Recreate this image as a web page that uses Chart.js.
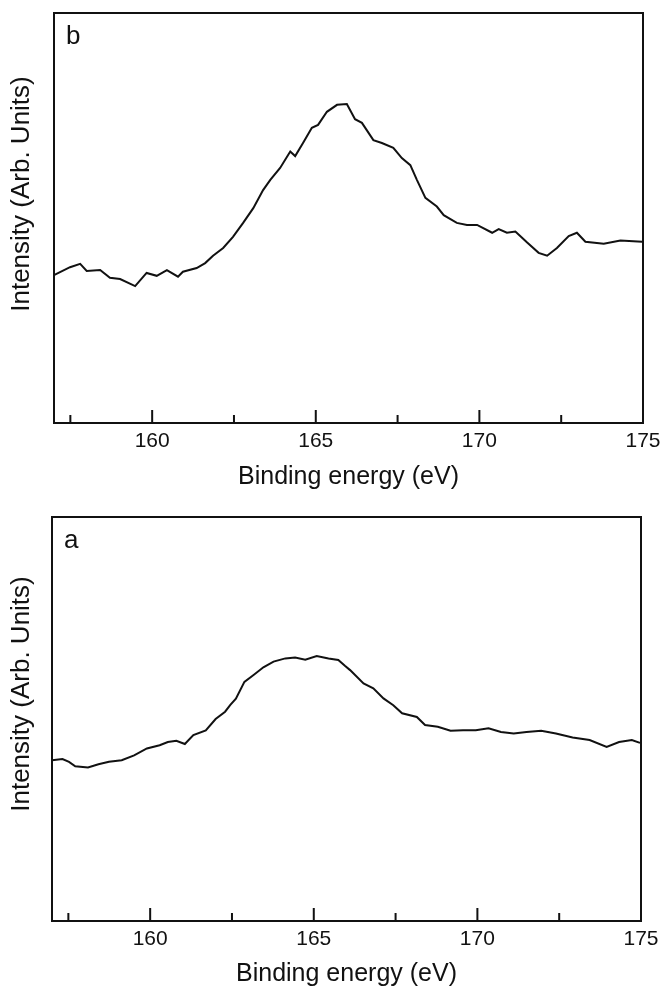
<!DOCTYPE html>
<html>
<head>
<meta charset="utf-8">
<script src="https://cdn.jsdelivr.net/npm/chart.js@4"></script>
<style>
  body { margin: 0; background: #fff; }
  .panel { position: absolute; left: 0; width: 661px; }
</style>
</head>
<body>
<div class="panel" style="top:0;height:500px"><canvas id="chartB"></canvas></div>
<div class="panel" style="top:500px;height:491px"><canvas id="chartA"></canvas></div>
<script>
  // spectrum b (upper panel)
  const energyB = [157.00, 157.49, 157.80, 158.00, 158.41, 158.71, 159.02, 159.48, 159.83, 160.14,
    160.45, 160.79, 160.94, 161.36, 161.62, 161.86, 162.17, 162.47, 162.78, 163.09,
    163.39, 163.61, 163.91, 164.22, 164.37, 164.61, 164.88, 165.07, 165.34, 165.65,
    165.95, 166.20, 166.41, 166.76, 167.02, 167.37, 167.63, 167.89, 168.09, 168.35,
    168.70, 168.91, 169.31, 169.62, 169.93, 170.39, 170.59, 170.84, 171.10, 171.46,
    171.81, 172.07, 172.37, 172.73, 172.98, 173.24, 173.80, 174.31, 174.97];
  const intensityB = [36.1, 38.0, 38.8, 37.1, 37.3, 35.4, 35.1, 33.4, 36.6, 35.9,
    37.3, 35.7, 36.9, 37.8, 39.0, 40.8, 42.7, 45.4, 48.8, 52.4,
    56.8, 59.3, 62.2, 66.2, 65.1, 68.3, 72.0, 72.7, 75.9, 77.6,
    77.8, 74.1, 73.2, 69.0, 68.3, 67.1, 64.6, 62.9, 59.3, 54.9,
    52.8, 50.7, 48.8, 48.3, 48.3, 46.4, 47.3, 46.4, 46.7, 44.0,
    41.5, 40.8, 42.7, 45.6, 46.4, 44.2, 43.7, 44.5, 44.2];

  // spectrum a (lower panel)
  const energyA = [157.00, 157.32, 157.52, 157.71, 158.10, 158.42, 158.74, 159.13, 159.51, 159.90,
    160.29, 160.54, 160.80, 161.06, 161.32, 161.70, 162.00, 162.29, 162.45, 162.62,
    162.88, 163.16, 163.46, 163.77, 164.13, 164.43, 164.74, 165.09, 165.45, 165.75,
    165.96, 166.11, 166.52, 166.82, 167.13, 167.43, 167.70, 168.15, 168.40, 168.79,
    169.18, 169.56, 169.95, 170.34, 170.72, 171.11, 171.50, 171.95, 172.40, 172.91,
    173.43, 173.95, 174.33, 174.72, 174.97];
  const intensityA = [39.8, 40.1, 39.4, 38.3, 38.0, 38.8, 39.4, 39.8, 41.0, 42.7,
    43.5, 44.3, 44.6, 43.8, 46.0, 47.2, 50.0, 51.8, 53.5, 55.0,
    59.2, 60.9, 62.8, 64.2, 65.0, 65.2, 64.7, 65.6, 65.0, 64.6,
    63.1, 62.1, 58.8, 57.6, 55.1, 53.4, 51.4, 50.5, 48.5, 48.1,
    47.1, 47.2, 47.2, 47.7, 46.8, 46.4, 46.8, 47.1, 46.4, 45.4,
    44.8, 43.1, 44.3, 44.8, 44.1];

  const majorTicks = [160, 165, 170, 175];
  const minorTicks = [157.5, 162.5, 167.5, 172.5];

  const FONT = '"Liberation Sans", Arial, Helvetica, sans-serif';
  const INK = '#111';

  // frame, inward ticks, panel letter and y title
  const framePlugin = {
    id: 'frame',
    afterDatasetsDraw(chart, args, opts) {
      const { ctx, chartArea: a, scales } = chart;
      ctx.save();
      ctx.strokeStyle = INK;
      ctx.lineWidth = 2;
      ctx.strokeRect(a.left, a.top, a.right - a.left, a.bottom - a.top);

      ctx.beginPath();
      for (const t of majorTicks) {
        const x = scales.x.getPixelForValue(t);
        ctx.moveTo(x, a.bottom);
        ctx.lineTo(x, a.bottom - 13);
      }
      for (const t of minorTicks) {
        const x = scales.x.getPixelForValue(t);
        ctx.moveTo(x, a.bottom);
        ctx.lineTo(x, a.bottom - 8);
      }
      ctx.stroke();

      ctx.fillStyle = INK;
      ctx.font = '26px ' + FONT;
      ctx.textBaseline = 'top';
      ctx.textAlign = 'left';
      ctx.fillText(opts.letter, a.left + 12, a.top + 11);

      ctx.translate(22, opts.titleY);
      ctx.rotate(-Math.PI / 2);
      ctx.textAlign = 'center';
      ctx.textBaseline = 'middle';
      ctx.font = '26px ' + FONT;
      ctx.fillText('Intensity (Arb. Units)', 0, 0);
      ctx.restore();
    }
  };

  function makeChart(id, energy, intensity, letter, titleY, pad, axisH) {
    return new Chart(document.getElementById(id), {
      type: 'line',
      data: {
        datasets: [{
          data: energy.map((e, i) => ({ x: e, y: intensity[i] })),
          borderColor: INK,
          borderWidth: 2,
          pointRadius: 0,
          tension: 0,
          fill: false
        }]
      },
      options: {
        responsive: true,
        maintainAspectRatio: false,
        animation: false,
        layout: { padding: pad },
        scales: {
          x: {
            type: 'linear',
            min: 157,
            max: 175,
            afterBuildTicks: (scale) => { scale.ticks = majorTicks.map(v => ({ value: v })); },
            afterFit: (scale) => {
              scale.height = axisH;
              scale.paddingLeft = 0;
              scale.paddingRight = 0;
            },
            grid: { display: false, drawTicks: false },
            border: { display: false },
            ticks: { color: INK, font: { family: FONT, size: 21 }, padding: 6, maxRotation: 0 },
            title: {
              display: true,
              text: 'Binding energy (eV)',
              color: INK,
              font: { family: FONT, size: 25 },
              padding: { top: 4, bottom: 0 }
            }
          },
          y: { display: false, min: 0, max: 100 }
        },
        plugins: {
          legend: { display: false },
          tooltip: { enabled: false },
          frame: { letter: letter, titleY: titleY }
        }
      },
      plugins: [framePlugin]
    });
  }

  makeChart('chartB', energyB, intensityB, 'b', 194, { left: 54, right: 18, top: 13, bottom: 8 }, 69);
  makeChart('chartA', energyA, intensityA, 'a', 194, { left: 52, right: 20, top: 17, bottom: 2 }, 68);
</script>
</body>
</html>
